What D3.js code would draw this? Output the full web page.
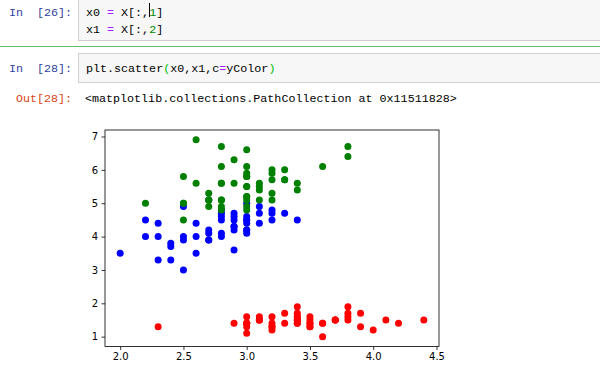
<!DOCTYPE html>
<html lang="en">
<head>
<meta charset="UTF-8">
<title>scatter</title>
<script src="https://cdn.jsdelivr.net/npm/d3@7"></script>
<style>
  body { margin: 0; background: #fff; }
  svg { display: block; }
  .mono { font-family: "Liberation Mono", "DejaVu Sans Mono", monospace; font-size: 11.7px; }
  .tick text { font-family: "DejaVu Sans", sans-serif; font-size: 10px; fill: #000; }
</style>
</head>
<body>
<script>
// iris: x0 = X[:,1] (sepal width), x1 = X[:,2] (petal length)
var setosaX = [3.5,3.0,3.2,3.1,3.6,3.9,3.4,3.4,2.9,3.1,3.7,3.4,3.0,3.0,4.0,4.4,3.9,3.5,3.8,3.8,
               3.4,3.7,3.6,3.3,3.4,3.0,3.4,3.5,3.4,3.2,3.1,3.4,4.1,4.2,3.1,3.2,3.5,3.6,3.0,3.4,
               3.5,2.3,3.2,3.5,3.8,3.0,3.8,3.2,3.7,3.3];
var setosaY = [1.4,1.4,1.3,1.5,1.4,1.7,1.4,1.5,1.4,1.5,1.5,1.6,1.4,1.1,1.2,1.5,1.3,1.4,1.7,1.5,
               1.7,1.5,1.0,1.7,1.9,1.6,1.6,1.5,1.4,1.6,1.6,1.5,1.5,1.4,1.5,1.2,1.3,1.4,1.3,1.5,
               1.3,1.3,1.3,1.6,1.9,1.4,1.6,1.4,1.5,1.4];
var versiX = [3.2,3.2,3.1,2.3,2.8,2.8,3.3,2.4,2.9,2.7,2.0,3.0,2.2,2.9,2.9,3.1,3.0,2.7,2.2,2.5,
              3.2,2.8,2.5,2.8,2.9,3.0,2.8,3.0,2.9,2.6,2.4,2.4,2.7,2.7,3.0,3.4,3.1,2.3,3.0,2.5,
              2.6,3.0,2.6,2.3,2.7,3.0,2.9,2.9,2.5,2.8];
var versiY = [4.7,4.5,4.9,4.0,4.6,4.5,4.7,3.3,4.6,3.9,3.5,4.2,4.0,4.7,3.6,4.4,4.5,4.1,4.5,3.9,
              4.8,4.0,4.9,4.7,4.3,4.4,4.8,5.0,4.5,3.5,3.8,3.7,3.9,5.1,4.5,4.5,4.7,4.4,4.1,4.0,
              4.4,4.6,4.0,3.3,4.2,4.2,4.2,4.3,3.0,4.1];
var virgX = [3.3,2.7,3.0,2.9,3.0,3.0,2.5,2.9,2.5,3.6,3.2,2.7,3.0,2.5,2.8,3.2,3.0,3.8,2.6,2.2,
             3.2,2.8,2.8,2.7,3.3,3.2,2.8,3.0,2.8,3.0,2.8,3.8,2.8,2.8,2.6,3.0,3.4,3.1,3.0,3.1,
             3.1,3.1,2.7,3.2,3.3,3.0,2.5,3.0,3.4,3.0];
var virgY = [6.0,5.1,5.9,5.6,5.8,6.6,4.5,6.3,5.8,6.1,5.1,5.3,5.5,5.0,5.1,5.3,5.5,6.7,6.9,5.0,
             5.7,4.9,6.7,4.9,5.7,6.0,4.8,4.9,5.6,5.8,6.1,6.4,5.6,5.1,5.6,6.1,5.6,5.5,4.8,5.4,
             5.6,5.1,5.1,5.9,5.7,5.2,5.0,5.2,5.4,5.1];
var groups = [
  {xs: setosaX, ys: setosaY, color: "#ff0000"},
  {xs: versiX, ys: versiY, color: "#0000ff"},
  {xs: virgX, ys: virgY, color: "#008000"}
];
var xTicks = [2.0, 2.5, 3.0, 3.5, 4.0, 4.5];
var yTicks = [1, 2, 3, 4, 5, 6, 7];

var width = 600, height = 376;
var svg = d3.select("body").append("svg")
    .attr("width", width)
    .attr("height", height);

// notebook cells
svg.append("rect").attr("x", 78.5).attr("y", -10).attr("width", 540).attr("height", 50.5)
    .attr("fill", "#f7f7f7").attr("stroke", "#cfcfcf");
svg.append("line").attr("x1", 0).attr("x2", width).attr("y1", 46.5).attr("y2", 46.5)
    .attr("stroke", "#66bb6a");
svg.append("rect").attr("x", 78.5).attr("y", 53.5).attr("width", 540).attr("height", 29)
    .attr("fill", "#f7f7f7").attr("stroke", "#cfcfcf");

function codeLine(x, y, parts) {
    var t = svg.append("text").attr("class", "mono").attr("x", x).attr("y", y)
        .attr("xml:space", "preserve");
    parts.forEach(function (p) {
        t.append("tspan").attr("fill", p[1] || "#000").text(p[0]);
    });
    return t;
}
function prompt(y, txt, color) {
    svg.append("text").attr("class", "mono").attr("x", 72).attr("y", y)
        .attr("text-anchor", "end").attr("fill", color)
        .attr("xml:space", "preserve").text(txt);
}

prompt(16, "In  [26]:", "#303f9f");
codeLine(86, 16, [["x0 "], ["=", "#aa22ff"], [" X[:,"], ["1", "#008800"], ["]"]]);
codeLine(86, 33, [["x1 "], ["=", "#aa22ff"], [" X[:,"], ["2", "#008800"], ["]"]]);
svg.append("line").attr("x1", 149.5).attr("x2", 149.5).attr("y1", 3).attr("y2", 17)
    .attr("stroke", "#000");

prompt(72, "In  [28]:", "#303f9f");
codeLine(86, 72, [["plt.scatter"], ["(", "#00bb00"], ["x0,x1,c"], ["=", "#aa22ff"], ["yColor"], [")", "#00bb00"]]);

prompt(102, "Out[28]:", "#d84315");
codeLine(85, 102, [["<matplotlib.collections.PathCollection at 0x11511828>"]]);

// plot
var x = d3.scaleLinear().domain([1.88, 4.52]).range([105, 439]);
var y = d3.scaleLinear().domain([0.705, 7.195]).range([346.5, 130]);

groups.forEach(function (g) {
    svg.append("g").selectAll("circle")
        .data(g.xs)
        .enter()
        .append("circle")
        .attr("cx", function (d) { return x(d); })
        .attr("cy", function (d, i) { return y(g.ys[i]); })
        .attr("r", 3.5)
        .attr("fill", g.color);
});

var xAxis = svg.append("g")
    .attr("transform", "translate(0," + 346.5 + ")")
    .call(d3.axisBottom(x).tickValues(xTicks).tickFormat(d3.format(".1f"))
        .tickSize(3.5).tickPadding(3));
var yAxis = svg.append("g")
    .attr("transform", "translate(" + 105 + ",0)")
    .call(d3.axisLeft(y).tickValues(yTicks).tickFormat(d3.format("d"))
        .tickSize(3.5).tickPadding(3.5));
xAxis.select(".domain").remove();
yAxis.select(".domain").remove();
svg.selectAll(".tick line").attr("stroke", "#000").attr("stroke-width", 0.8);

svg.append("rect")
    .attr("x", 105).attr("y", 130)
    .attr("width", 334).attr("height", 216.5)
    .attr("fill", "none").attr("stroke", "#000").attr("stroke-width", 0.8);
</script>
</body>
</html>
